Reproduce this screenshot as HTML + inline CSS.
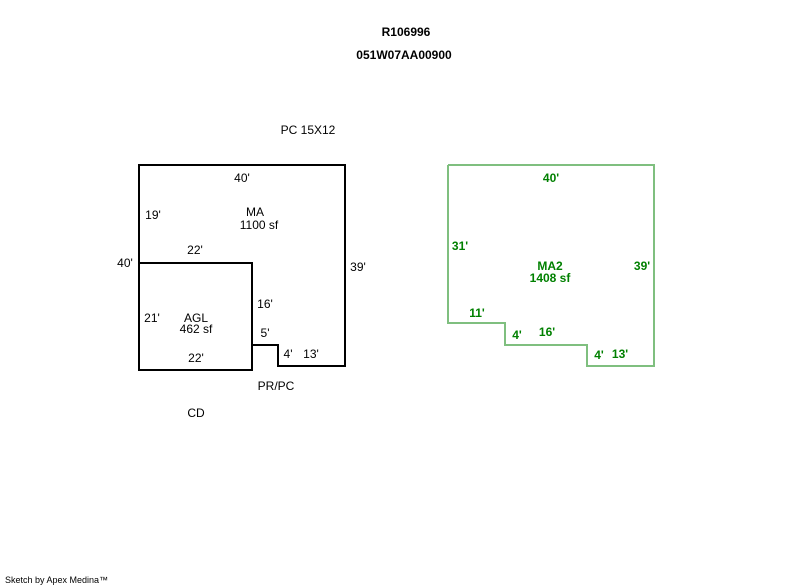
<!DOCTYPE html>
<html><head><meta charset="utf-8"><style>
html,body{margin:0;padding:0;background:#fff;}
svg{display:block;}
text{font-family:"Liberation Sans",Arial,sans-serif;font-size:12px;fill:#000;}
.b{font-weight:bold;}
.g{fill:#008000;font-weight:bold;}
</style></head><body>
<svg width="800" height="587" viewBox="0 0 800 587" xmlns="http://www.w3.org/2000/svg">
<text x="406" y="36" text-anchor="middle" class="b">R106996</text>
<text x="404" y="59" text-anchor="middle" class="b">051W07AA00900</text>
<text x="308" y="134" text-anchor="middle">PC 15X12</text>

<polyline points="139,263 139,165 345,165 345,366 278,366 278,345 252,345" fill="none" stroke="#000" stroke-width="2"/>
<rect x="139" y="263" width="113" height="107" fill="none" stroke="#000" stroke-width="2"/>

<text x="242" y="182" text-anchor="middle">40'</text>
<text x="153" y="219" text-anchor="middle">19'</text>
<text x="255" y="216" text-anchor="middle">MA</text>
<text x="259" y="229" text-anchor="middle">1100 sf</text>
<text x="195" y="254" text-anchor="middle">22'</text>
<text x="125" y="267" text-anchor="middle">40'</text>
<text x="358" y="271" text-anchor="middle">39'</text>
<text x="265" y="308" text-anchor="middle">16'</text>
<text x="152" y="322" text-anchor="middle">21'</text>
<text x="196" y="322" text-anchor="middle">AGL</text>
<text x="196" y="333" text-anchor="middle">462 sf</text>
<text x="265" y="337" text-anchor="middle">5'</text>
<text x="288" y="358" text-anchor="middle">4'</text>
<text x="311" y="358" text-anchor="middle">13'</text>
<text x="196" y="362" text-anchor="middle">22'</text>
<text x="276" y="390" text-anchor="middle">PR/PC</text>
<text x="196" y="417" text-anchor="middle">CD</text>

<polyline points="448,165 654,165 654,366 587,366 587,345 505,345 505,323 448,323 448,165" fill="none" stroke="#7fbf7f" stroke-width="2"/>
<text x="551" y="182" text-anchor="middle" class="g">40'</text>
<text x="460" y="250" text-anchor="middle" class="g">31'</text>
<text x="550" y="270" text-anchor="middle" class="g">MA2</text>
<text x="550" y="282" text-anchor="middle" class="g">1408 sf</text>
<text x="642" y="270" text-anchor="middle" class="g">39'</text>
<text x="477" y="317" text-anchor="middle" class="g">11'</text>
<text x="517" y="339" text-anchor="middle" class="g">4'</text>
<text x="547" y="336" text-anchor="middle" class="g">16'</text>
<text x="599" y="359" text-anchor="middle" class="g">4'</text>
<text x="620" y="358" text-anchor="middle" class="g">13'</text>

<text x="5" y="583" style="font-size:9px">Sketch by Apex Medina™</text>
</svg>
</body></html>
